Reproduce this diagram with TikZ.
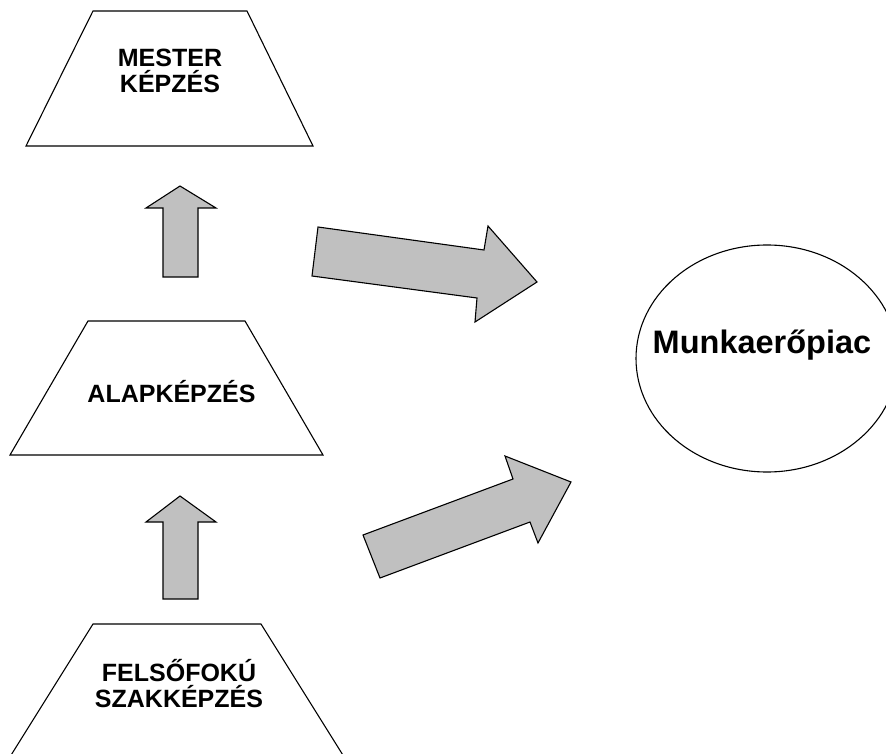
\documentclass[tikz,border=0pt]{standalone}
\usepackage{fontspec}
\setmainfont{Liberation Sans}
\usetikzlibrary{calc,shapes}
\definecolor{arrowgray}{RGB}{192,192,192}
\tikzset{
	level/.style={draw=black,line width=1.1pt,line join=miter},
	blockarrow/.style={draw=black,line width=1.1pt,fill=arrowgray,line join=miter},
	levellabel/.style={font=\fontsize{25}{26}\selectfont\bfseries,align=center,inner sep=0pt,anchor=base}
}
\begin{document}
\begin{tikzpicture}[x=1pt,y=-1pt]
			\useasboundingbox (0,0) rectangle (886,754);
			\clip (0,0) rectangle (886,754);
			% kepzesi szintek
			\draw [level] (93,11) -- (247,11) -- (313,146) -- (26,146) -- cycle;
			\draw [level] (88,321) -- (245,321) -- (323,455) -- (10,455) -- cycle;
			\draw [level] (93,624) -- (261,624) -- (346,760) -- (8,760) -- cycle;
			\node [levellabel] (mester) at (170,93) {MESTER\\KÉPZÉS};
			\node [levellabel] (alap) at (171.5,402) {ALAPKÉPZÉS};
			\node [levellabel] (felso) at (179,707) {FELSŐFOKÚ\\SZAKKÉPZÉS};
			% munkaeropiac
			\draw [level] (767,358.5) ellipse [x radius=131,y radius=113.5];
			\node [font=\fontsize{32.5}{36}\selectfont\bfseries,inner sep=0pt,anchor=base] (piac) at (762,353) {Munkaerőpiac};
			% nyilak
			\draw [blockarrow] (163,277) -- (163,208) -- (146,208) -- (180,186) -- (216,208) -- (198,208) -- (198,277) -- cycle;
			\draw [blockarrow] (163,599) -- (163,522) -- (146,522) -- (180,496) -- (216,522) -- (198,522) -- (198,599) -- cycle;
			\draw [blockarrow] (318,227) -- (484,250) -- (488,226) -- (537,282) -- (475,322) -- (477,298) -- (312,276) -- cycle;
			\draw [blockarrow] (363,535) -- (513,479) -- (505,456) -- (571,482) -- (538,543) -- (530,522) -- (380,578) -- cycle;
\end{tikzpicture}
\end{document}
